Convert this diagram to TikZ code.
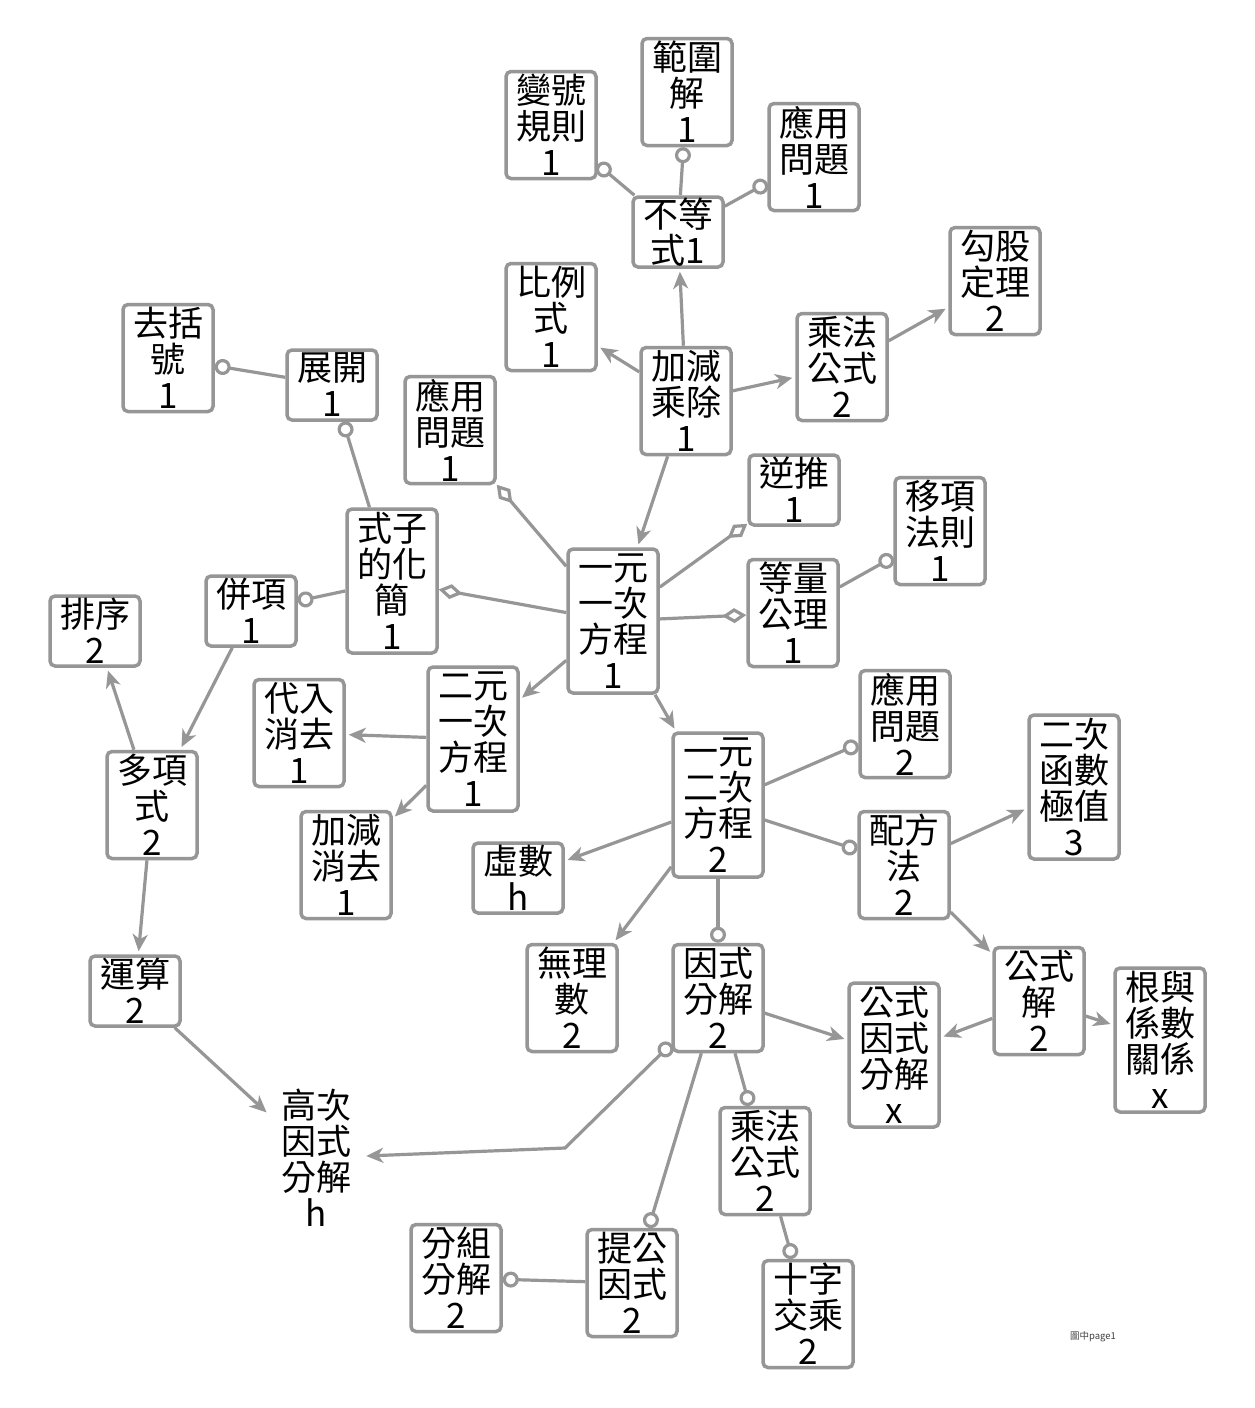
\documentclass[tikz,border=0pt]{standalone}
\usepackage{fontspec}
\usetikzlibrary{arrows.meta}
\newfontfamily\cjk{Noto Sans CJK TC}
\definecolor{lgray}{RGB}{150,150,150}
\tikzset{
  box/.style={draw=lgray, line width=3.5pt, rounded corners=5pt, fill=white,
    minimum width=90pt, inner xsep=0pt, inner ysep=0pt, align=center,
    font=\cjk\fontsize{35}{36}\selectfont},
  two/.style={box, minimum height=70pt},
  three/.style={box, minimum height=107pt},
  four/.style={box, minimum height=144pt},
  plain/.style={inner sep=12pt, align=center, font=\cjk\fontsize{35}{36}\selectfont},
  link/.style={draw=lgray, line width=3.2pt},
  arr/.style={link, shorten >=3pt, -{Stealth[length=17pt,width=15pt,inset=5pt]}},
  ring/.style={link, -{Circle[length=16pt,fill=white]}},
  kite/.style={link, -{Diamond[length=24pt,width=15pt,fill=white]}},
}
\begin{document}
\begin{tikzpicture}[x=1pt, y=-1pt]
\fill[white] (0,0) rectangle (1255,1408);
\useasboundingbox (0,0) rectangle (1255,1408);

% concept boxes
\node[three] (bianhao)   at (551,125)  {變號\\規則\\1};
\node[three] (fanwei)    at (687,92)   {範圍\\解\\1};
\node[three] (yingyongA) at (814,157)  {應用\\問題\\1};
\node[two]   (budeng)    at (678,232)  {不等\\式1};
\node[three] (bili)      at (551,317)  {比例\\式\\1};
\node[three] (jiajian)   at (686,401)  {加減\\乘除\\1};
\node[three] (chengfaA)  at (842,367)  {乘法\\公式\\2};
\node[three] (gougu)     at (995,281)  {勾股\\定理\\2};
\node[three] (quguo)     at (168,358)  {去括\\號\\1};
\node[two]   (zhankai)   at (332,385)  {展開\\1};
\node[three] (yingyongB) at (450,430)  {應用\\問題\\1};
\node[two]   (nitui)     at (794,490)  {逆推\\1};
\node[three] (yixiang)   at (940,531)  {移項\\法則\\1};
\node[four]  (shizi)     at (392,581)  {式子\\的化\\簡\\1};
\node[two]   (bingxiang) at (251,611)  {併項\\1};
\node[two]   (paixu)     at (95,631)   {排序\\2};
\node[four]  (yiyi)      at (613,621)  {一元\\一次\\方程\\1};
\node[three] (dengliang) at (793,613)  {等量\\公理\\1};
\node[three] (dairu)     at (299,733)  {代入\\消去\\1};
\node[four]  (eryi)      at (473,739)  {二元\\一次\\方程\\1};
\node[three] (duoxiang)  at (152,805)  {多項\\式\\2};
\node[three] (jjxq)      at (346,865)  {加減\\消去\\1};
\node[three] (yingyongC) at (905,724)  {應用\\問題\\2};
\node[four]  (yier)      at (718,805)  {一元\\二次\\方程\\2};
\node[four]  (erci)      at (1074,787) {二次\\函數\\極值\\3};
\node[three] (peifang)   at (904,865)  {配方\\法\\2};
\node[two]   (xushu)     at (518,878)  {虛數\\h};
\node[three] (wuli)      at (572,998)  {無理\\數\\2};
\node[three] (yinshi)    at (718,998)  {因式\\分解\\2};
\node[two]   (yunsuan)   at (135,991)  {運算\\2};
\node[three] (gsj)       at (1039,1001) {公式\\解\\2};
\node[four]  (gsys)      at (894,1055) {公式\\因式\\分解\\x};
\node[four]  (genyu)     at (1160,1040) {根與\\係數\\關係\\x};
\node[three] (chengfaB)  at (765,1161) {乘法\\公式\\2};
\node[plain] (gaoci)     at (316,1158) {高次\\因式\\分解\\h};
\node[three] (fenzu)     at (456,1278) {分組\\分解\\2};
\node[three] (tigong)    at (632,1283) {提公\\因式\\2};
\node[three] (shizijiao) at (808,1314) {十字\\交乘\\2};

% footer
\node[font=\cjk\fontsize{9.5}{11}\selectfont, text=black!75] (footer) at (1093,1337) {圖中page1};

% connectors
\draw[ring] (budeng) -- (bianhao);
\draw[ring] (budeng) -- (fanwei);
\draw[ring] (budeng) -- (yingyongA);
\draw[arr]  (jiajian) -- (budeng);
\draw[arr]  (jiajian) -- (bili);
\draw[arr]  (jiajian) -- (chengfaA);
\draw[arr]  (chengfaA) -- (gougu);
\draw[arr]  (jiajian) -- (yiyi);
\draw[kite] (yiyi) -- (yingyongB);
\draw[kite] (yiyi) -- (nitui);
\draw[kite] (yiyi) -- (dengliang);
\draw[kite] (yiyi) -- (shizi);
\draw[ring] (dengliang) -- (yixiang);
\draw[ring] (shizi) -- (zhankai);
\draw[ring] (zhankai) -- (quguo);
\draw[ring] (shizi) -- (bingxiang);
\draw[arr]  (bingxiang) -- (duoxiang);
\draw[arr]  (duoxiang) -- (paixu);
\draw[arr]  (duoxiang) -- (yunsuan);
\draw[arr]  (yunsuan) -- (gaoci);
\draw[arr]  (yiyi) -- (eryi);
\draw[arr]  (eryi) -- (dairu);
\draw[arr]  (eryi) -- (jjxq);
\draw[arr]  (yiyi) -- (yier);
\draw[ring] (yier) -- (yingyongC);
\draw[ring] (yier) -- (peifang);
\draw[arr]  (peifang) -- (erci);
\draw[arr]  (peifang) -- (gsj);
\draw[arr]  (gsj) -- (gsys);
\draw[arr]  (gsj) -- (genyu);
\draw[arr]  (yier) -- (xushu);
\draw[arr]  (yier) -- (wuli);
\draw[ring] (yier) -- (yinshi);
\draw[arr]  (yinshi) -- (gsys);
\coordinate (bend) at (565,1148);
\draw[link, shorten >=3pt, {Circle[length=16pt,fill=white]}-{Stealth[length=17pt,width=15pt,inset=5pt]}]
  (yinshi) -- (bend) -- (gaoci);
\draw[ring] (yinshi) -- (tigong);
\draw[ring] (yinshi.south) ++(17,0) coordinate (ysout) -- (chengfaB);
\draw[ring] (chengfaB) -- (shizijiao);
\draw[ring] (tigong) -- (fenzu);
\end{tikzpicture}
\end{document}
